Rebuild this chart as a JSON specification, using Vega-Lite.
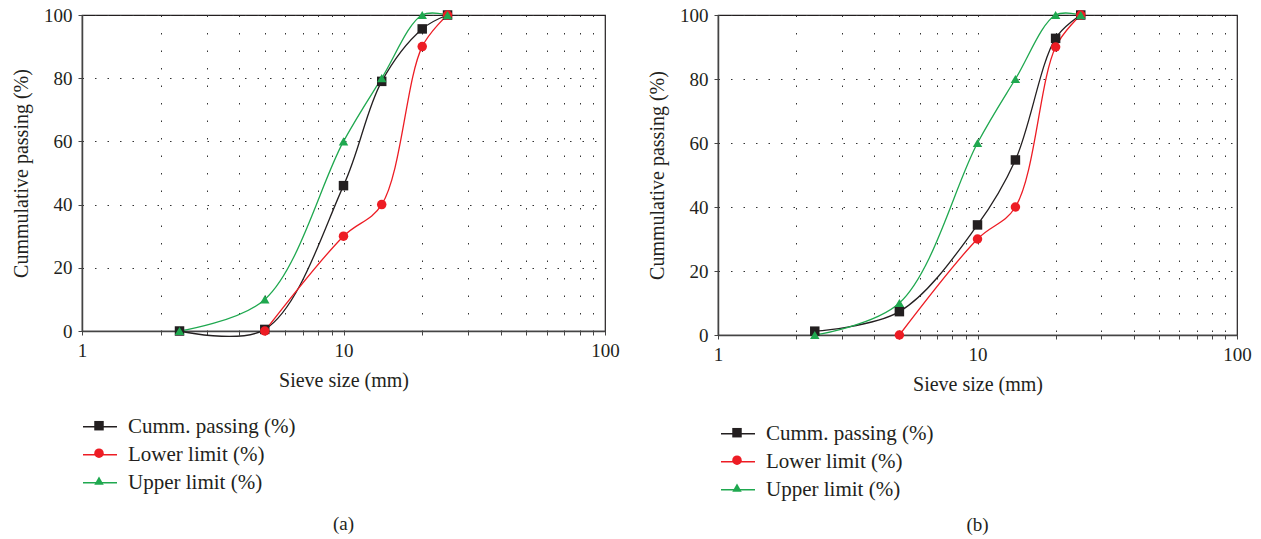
{
  "$schema": "https://vega.github.io/schema/vega-lite/v6.json",
  "padding": {"left": 10, "top": 5, "right": 0, "bottom": 0},
  "background": "white",
  "config": {
    "font": "Liberation Serif",
    "view": {"stroke": "#231f20", "strokeWidth": 1.2},
    "axis": {
      "labelFont": "Liberation Serif", "titleFont": "Liberation Serif",
      "labelColor": "#231f20", "titleColor": "#231f20",
      "labelFontSize": 19, "titleFontSize": 20, "titleFontWeight": "normal",
      "domainColor": "#444", "domainWidth": 1.5, "tickColor": "#444", "tickSize": 4,
      "gridColor": "#333", "gridWidth": 1, "labelOverlap": false, "labelFlush": false
    },
    "legend": {"labelFont": "Liberation Serif", "labelColor": "#231f20", "labelLimit": 400},
    "title": {"font": "Liberation Serif", "fontSize": 19, "fontWeight": "normal", "color": "#231f20"}
  },
  "datasets": {
    "a": [
      {"size": 2.36, "pct": 0, "series": "Cumm. passing (%)", "line": "Cumm. passing (%)"},
      {"size": 5, "pct": 0.5, "series": "Cumm. passing (%)", "line": "Cumm. passing (%)"},
      {"size": 10, "pct": 46, "series": "Cumm. passing (%)", "line": "Cumm. passing (%)"},
      {"size": 14, "pct": 79, "series": "Cumm. passing (%)", "line": "Cumm. passing (%)"},
      {"size": 20, "pct": 95.6, "series": "Cumm. passing (%)", "line": "Cumm. passing (%)"},
      {"size": 25, "pct": 100, "series": "Cumm. passing (%)", "line": "Cumm. passing (%)"},
      {"size": 5, "pct": 0, "series": "Lower limit (%)", "line": "Lower limit (%)"},
      {"size": 10, "pct": 30, "series": "Lower limit (%)", "line": "Lower limit (%)"},
      {"size": 14, "pct": 40, "series": "Lower limit (%)", "line": "Lower limit (%)"},
      {"size": 20, "pct": 90, "series": "Lower limit (%)", "line": "Lower limit (%)"},
      {"size": 25, "pct": 100, "series": "Lower limit (%)", "line": "Lower limit (%)"},
      {"size": 2.36, "pct": 0, "series": "Upper limit (%)", "line": "Upper limit (%)"},
      {"size": 5, "pct": 10, "series": "Upper limit (%)", "line": "Upper limit (%)"},
      {"size": 10, "pct": 60, "series": "Upper limit (%)", "line": "Upper limit (%)"},
      {"size": 14, "pct": 80, "series": "Upper limit (%)", "line": "Upper limit (%)"},
      {"size": 20, "pct": 100, "series": "Upper limit (%)", "line": "Upper limit (%)"},
      {"size": 25, "pct": 100, "series": "Upper limit (%)", "line": "Upper limit (%)"}
    ],
    "b": [
      {"size": 2.36, "pct": 1.2, "series": "Cumm. passing (%)", "line": "Cumm. passing (%)"},
      {"size": 5, "pct": 7.3, "series": "Cumm. passing (%)", "line": "Cumm. passing (%)"},
      {"size": 10, "pct": 34.4, "series": "Cumm. passing (%)", "line": "Cumm. passing (%)"},
      {"size": 14, "pct": 54.7, "series": "Cumm. passing (%)", "line": "Cumm. passing (%)"},
      {"size": 20, "pct": 92.7, "series": "Cumm. passing (%)", "line": "Cumm. passing (%)"},
      {"size": 25, "pct": 100, "series": "Cumm. passing (%)", "line": "Cumm. passing (%)"},
      {"size": 5, "pct": 0, "series": "Lower limit (%)", "line": "Lower limit (%)"},
      {"size": 10, "pct": 30, "series": "Lower limit (%)", "line": "Lower limit (%)"},
      {"size": 14, "pct": 40, "series": "Lower limit (%)", "line": "Lower limit (%)"},
      {"size": 20, "pct": 90, "series": "Lower limit (%)", "line": "Lower limit (%)"},
      {"size": 25, "pct": 100, "series": "Lower limit (%)", "line": "Lower limit (%)"},
      {"size": 2.36, "pct": 0, "series": "Upper limit (%)", "line": "Upper limit (%)"},
      {"size": 5, "pct": 10, "series": "Upper limit (%)", "line": "Upper limit (%)"},
      {"size": 10, "pct": 60, "series": "Upper limit (%)", "line": "Upper limit (%)"},
      {"size": 14, "pct": 80, "series": "Upper limit (%)", "line": "Upper limit (%)"},
      {"size": 20, "pct": 100, "series": "Upper limit (%)", "line": "Upper limit (%)"},
      {"size": 25, "pct": 100, "series": "Upper limit (%)", "line": "Upper limit (%)"}
    ]
  },
  "spacing": 26,
  "resolve": {"scale": {"stroke": "independent", "fill": "independent", "shape": "independent"}},
  "hconcat": [
    {
      "width": 523, "height": 316,
      "title": {"text": "(a)", "orient": "bottom", "offset": 22},
      "data": {"name": "a"},
      "layer": [
        {
          "mark": {"type": "line", "interpolate": "catmull-rom", "strokeWidth": 1.3, "clip": false},
          "encoding": {
            "x": {"field": "size", "type": "quantitative", "scale": {"type": "log", "domain": [1, 100], "nice": false},
              "axis": {"title": "Sieve size (mm)", "values": [1,2,3,4,5,6,7,8,9,10,20,30,40,50,60,70,80,90,100],
                "labelExpr": "datum.value == 1 || datum.value == 10 || datum.value == 100 ? datum.label : ''",
                "grid": true, "gridDash": [1.5, 16], "labelPadding": 6, "titlePadding": 10}},
            "y": {"field": "pct", "type": "quantitative", "scale": {"domain": [0, 100], "nice": false, "zero": false},
              "axis": {"title": "Cummulative passing (%)", "values": [0,10,20,30,40,50,60,70,80,90,100],
                "labelExpr": "datum.value % 20 == 0 ? datum.label : ''",
                "grid": true, "gridDash": [1.5, 11], "labelPadding": 6, "titlePadding": 12}},
            "stroke": {"field": "line", "type": "nominal",
              "scale": {"range": ["#231f20", "#ed1c24", "#1fa84f"]},
              "legend": {"orient": "none", "legendX": 0, "legendY": 393.7, "title": null, "symbolType": "stroke", "symbolSize": 1156,
                "symbolStrokeWidth": 1.5, "labelFontSize": 21, "labelOffset": 10, "rowPadding": 0, "padding": 0}}
          }
        },
        {
          "mark": {"type": "point", "filled": true, "opacity": 1, "size": 90},
          "encoding": {
            "x": {"field": "size", "type": "quantitative"},
            "y": {"field": "pct", "type": "quantitative"},
            "fill": {"field": "series", "type": "nominal",
              "scale": {"range": ["#231f20", "#ed1c24", "#1fa84f"]},
              "legend": {"orient": "none", "legendX": 7.5, "legendY": 401.2, "title": null, "symbolSize": 90,
                "labelFontSize": 19, "labelExpr": "''", "rowPadding": 7.5, "padding": 0}},
            "shape": {"field": "series", "type": "nominal",
              "scale": {"range": ["square", "circle", "triangle-up"]},
              "legend": {"orient": "none", "legendX": 7.5, "legendY": 401.2, "title": null, "symbolSize": 90,
                "labelFontSize": 19, "labelExpr": "''", "rowPadding": 7.5, "padding": 0}}
          }
        }
      ]
    },
    {
      "width": 519, "height": 320,
      "title": {"text": "(b)", "orient": "bottom", "offset": 16},
      "data": {"name": "b"},
      "layer": [
        {
          "mark": {"type": "line", "interpolate": "catmull-rom", "strokeWidth": 1.3, "clip": false},
          "encoding": {
            "x": {"field": "size", "type": "quantitative", "scale": {"type": "log", "domain": [1, 100], "nice": false},
              "axis": {"title": "Sieve size (mm)", "values": [1,2,3,4,5,6,7,8,9,10,20,30,40,50,60,70,80,90,100],
                "labelExpr": "datum.value == 1 || datum.value == 10 || datum.value == 100 ? datum.label : ''",
                "grid": true, "gridDash": [1.5, 16], "labelPadding": 6, "titlePadding": 10}},
            "y": {"field": "pct", "type": "quantitative", "scale": {"domain": [0, 100], "nice": false, "zero": false},
              "axis": {"title": "Cummulative passing (%)", "values": [0,10,20,30,40,50,60,70,80,90,100],
                "labelExpr": "datum.value % 20 == 0 ? datum.label : ''",
                "grid": true, "gridDash": [1.5, 11], "labelPadding": 6, "titlePadding": 12}},
            "stroke": {"field": "line", "type": "nominal",
              "scale": {"range": ["#231f20", "#ed1c24", "#1fa84f"]},
              "legend": {"orient": "none", "legendX": 2, "legendY": 400.7, "title": null, "symbolType": "stroke", "symbolSize": 1156,
                "symbolStrokeWidth": 1.5, "labelFontSize": 21, "labelOffset": 10, "rowPadding": 0, "padding": 0}}
          }
        },
        {
          "mark": {"type": "point", "filled": true, "opacity": 1, "size": 90},
          "encoding": {
            "x": {"field": "size", "type": "quantitative"},
            "y": {"field": "pct", "type": "quantitative"},
            "fill": {"field": "series", "type": "nominal",
              "scale": {"range": ["#231f20", "#ed1c24", "#1fa84f"]},
              "legend": {"orient": "none", "legendX": 9.5, "legendY": 408.2, "title": null, "symbolSize": 90,
                "labelFontSize": 19, "labelExpr": "''", "rowPadding": 7.5, "padding": 0}},
            "shape": {"field": "series", "type": "nominal",
              "scale": {"range": ["square", "circle", "triangle-up"]},
              "legend": {"orient": "none", "legendX": 9.5, "legendY": 408.2, "title": null, "symbolSize": 90,
                "labelFontSize": 19, "labelExpr": "''", "rowPadding": 7.5, "padding": 0}}
          }
        }
      ]
    }
  ]
}
